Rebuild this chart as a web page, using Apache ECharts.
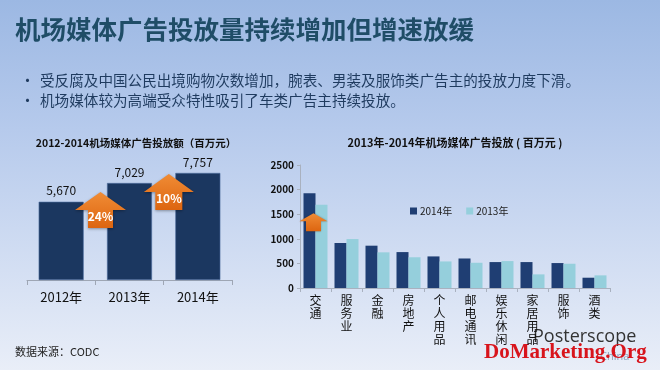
<!DOCTYPE html>
<html><head><meta charset="utf-8">
<script src="https://cdn.jsdelivr.net/npm/echarts@6/dist/echarts.min.js"></script>
<style>html,body{margin:0;padding:0;background:#fff;}#c{width:660px;height:370px;}</style>
</head><body><div id="c"></div>
<script>
const years = ['2012年', '2013年', '2014年'];
const totals = [5670, 7029, 7757];
const growth = ['24%', '10%'];
const sectors = ['交通', '服务业', '金融', '房地产', '个人用品', '邮电通讯', '娱乐休闲', '家居用品', '服饰', '酒类'];
const v2014 = [1925, 915, 860, 730, 642, 600, 527, 527, 507, 209];
const v2013 = [1690, 995, 725, 625, 540, 513, 547, 277, 493, 257];
const seriesNames = ['2014年', '2013年'];
const mainTitle = '机场媒体广告投放量持续增加但增速放缓';
const bullets = ['受反腐及中国公民出境购物次数增加，腕表、男装及服饰类广告主的投放力度下滑。', '机场媒体较为高端受众特性吸引了车类广告主持续投放。'];
const leftTitle = '2012-2014机场媒体广告投放额（百万元）';
const rightTitle = '2013年-2014年机场媒体广告投放 ( 百万元 )';
const source = '数据来源：CODC';

const CJK = '"Noto Sans CJK SC", "Noto Sans", sans-serif';
const chart = echarts.init(document.getElementById('c'));

const option = {
  backgroundColor: new echarts.graphic.LinearGradient(0, 0, 0, 1, [
    {offset: 0, color: '#9cb8e3'}, {offset: 0.35, color: '#b6caec'}, {offset: 1, color: '#e9eef8'}
  ]),
  animation: false,
  textStyle: {fontFamily: CJK},
  title: [
    {text: leftTitle, left: 131, top: 133, textAlign: 'center',
     textStyle: {fontSize: 10.5, fontWeight: 'bold', color: '#111', fontFamily: CJK}},
    {text: rightTitle, left: 450, top: 132, textAlign: 'center',
     textStyle: {fontSize: 11, fontWeight: 'bold', color: '#111', fontFamily: CJK}}
  ],
  legend: {
    left: 405, top: 201, itemWidth: 7, itemHeight: 7, itemGap: 14,
    icon: 'rect', data: seriesNames,
    textStyle: {fontSize: 10, color: '#222', fontFamily: CJK, padding: [0, 0, 0, -2]}
  },
  grid: [
    {left: 27, width: 205, top: 142, height: 138},
    {left: 300, width: 310, top: 165, height: 123}
  ],
  xAxis: [
    {type: 'category', gridIndex: 0, data: years,
     axisLine: {lineStyle: {color: '#9ea6b4', width: 1}},
     axisTick: {show: true, length: 5, lineStyle: {color: '#9ea6b4'}},
     axisLabel: {fontSize: 13, color: '#111', margin: 11, fontFamily: CJK}},
    {type: 'category', gridIndex: 1, data: sectors,
     axisLine: {lineStyle: {color: '#a9b1bf', width: 1}},
     axisTick: {show: true, length: 4, lineStyle: {color: '#a9b1bf'}},
     axisLabel: {fontSize: 12, color: '#111', margin: 6, lineHeight: 13, fontFamily: CJK,
       verticalAlign: 'top',
       formatter: v => v.split('').join('\n')}}
  ],
  yAxis: [
    {type: 'value', gridIndex: 0, min: 0, max: 10000, show: false},
    {type: 'value', gridIndex: 1, min: 0, max: 2500, interval: 500,
     axisLine: {show: true, lineStyle: {color: '#a9b1bf'}},
     axisTick: {show: true, length: 3, lineStyle: {color: '#a9b1bf'}},
     splitLine: {show: false},
     axisLabel: {fontSize: 10, color: '#111', fontWeight: 'bold', margin: 6, fontFamily: CJK,
       formatter: v => String(v)}}
  ],
  series: [
    {type: 'bar', xAxisIndex: 0, yAxisIndex: 0, data: totals, barWidth: 45,
     itemStyle: {color: '#1b3760', borderColor: '#4f6f9f', borderWidth: 0.6},
     label: {show: true, position: 'top', distance: 5, fontSize: 12, color: '#111', fontFamily: CJK,
       formatter: p => p.value.toLocaleString('en-US')}},
    {name: seriesNames[0], type: 'bar', xAxisIndex: 1, yAxisIndex: 1, data: v2014,
     barWidth: 12, barGap: '0%', itemStyle: {color: '#1f3e73'}},
    {name: seriesNames[1], type: 'bar', xAxisIndex: 1, yAxisIndex: 1, data: v2013,
     barWidth: 12, barGap: '0%', itemStyle: {color: '#95cfdc'}}
  ],
  graphic: []
};
chart.setOption(option);

function arrowPts(cx, top, headW, headH, shaftW, totalH) {
  return [[cx, top], [cx + headW / 2, top + headH], [cx + shaftW / 2, top + headH],
    [cx + shaftW / 2, top + totalH], [cx - shaftW / 2, top + totalH],
    [cx - shaftW / 2, top + headH], [cx - headW / 2, top + headH]];
}
const orange = new echarts.graphic.LinearGradient(0, 0, 0, 1, [
  {offset: 0, color: '#f08c35'}, {offset: 1, color: '#dd6510'}]);

const g = [];
g.push({type: 'text', left: 15, top: 17, style: {text: mainTitle, fontSize: 25.5, fontWeight: 'bold', fill: '#1f4d67', fontFamily: CJK}});
bullets.forEach((b, i) => {
  g.push({type: 'text', left: 20, top: 73 + i * 20, style: {text: '•', fontSize: 15, fill: '#1f3b5f', fontFamily: CJK}});
  g.push({type: 'text', left: 40, top: 73 + i * 20, style: {text: b, fontSize: 14.6, fill: '#1f3b5f', fontFamily: CJK}});
});
g.push({type: 'text', left: 15, top: 346, style: {text: source, fontSize: 11, fill: '#222', fontFamily: CJK}});
g.push({type: 'text', left: 533, top: 328, style: {text: 'Posterscope', fontSize: 18, fill: '#333', fontFamily: '"Open Sans", sans-serif'}});
g.push({type: 'text', left: 600, top: 351, style: {text: 'China', fontSize: 11, fill: '#8a9fb8', fontFamily: '"Open Sans", sans-serif'}});
g.push({type: 'text', left: 484, top: 342, style: {text: 'DoMarketing.Org', fontSize: 21, fontWeight: 'bold', fill: '#d8141c', fontFamily: '"Liberation Serif", serif'}});

const a1 = chart.convertToPixel({xAxisIndex: 0, yAxisIndex: 0}, [1, totals[1]]);
const a2 = chart.convertToPixel({xAxisIndex: 0, yAxisIndex: 0}, [2, totals[2]]);
const arrows = [
  {cx: a1[0] - 29, top: a1[1] + 9, hw: 51, hh: 18, sw: 25, th: 36, label: growth[0]},
  {cx: a2[0] - 29, top: a2[1] + 1, hw: 50, hh: 18, sw: 27, th: 36, label: growth[1]}
];
arrows.forEach(a => {
  g.push({type: 'polygon', shape: {points: arrowPts(a.cx, a.top, a.hw, a.hh, a.sw, a.th)},
    style: {fill: orange, shadowBlur: 3, shadowColor: 'rgba(0,0,0,0.35)', shadowOffsetY: 1}, z: 10});
  g.push({type: 'text', x: a.cx, y: a.top + a.hh + 6, z: 11,
    style: {text: a.label, fontSize: 12, fontWeight: 'bold', fill: '#fff', align: 'center', verticalAlign: 'middle', fontFamily: CJK}});
});
const a3 = chart.convertToPixel({xAxisIndex: 1, yAxisIndex: 1}, [0, 1520]);
g.push({type: 'polygon', shape: {points: arrowPts(a3[0] - 2, a3[1], 28, 8, 15, 18)},
  style: {fill: orange, shadowBlur: 2, shadowColor: 'rgba(0,0,0,0.3)'}, z: 10});

chart.setOption({graphic: g});
</script></body></html>
